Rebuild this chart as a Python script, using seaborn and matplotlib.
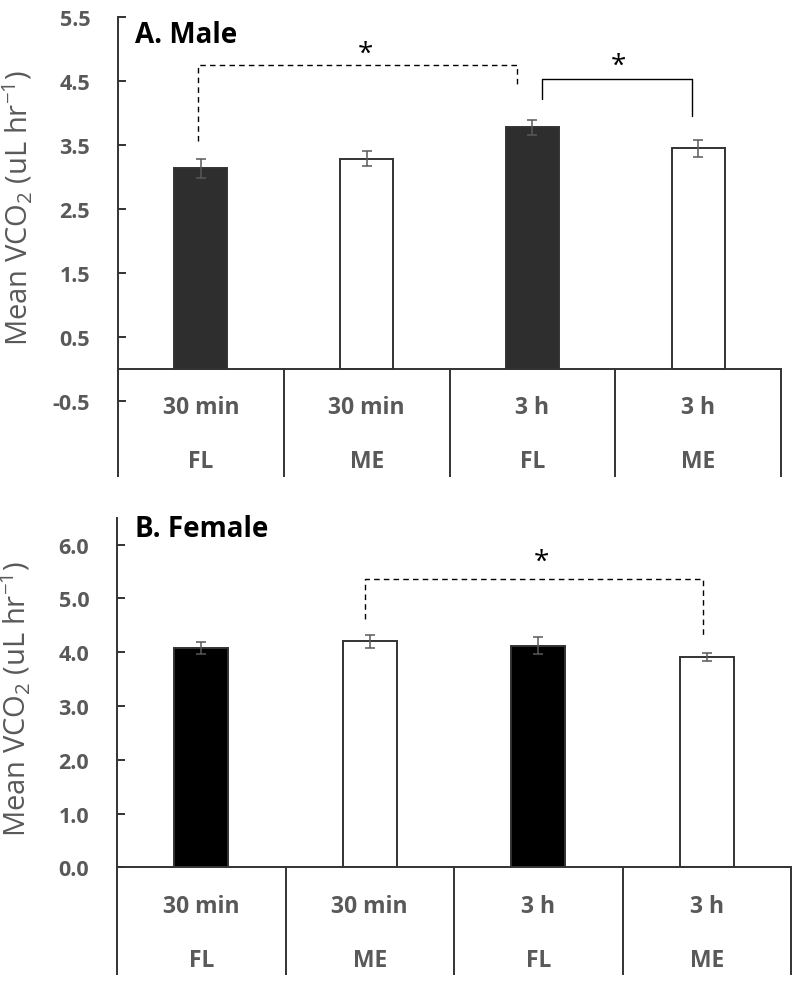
import matplotlib
matplotlib.use("Agg")
import matplotlib.pyplot as plt
import seaborn as sns
import pandas as pd

# Chart values
times = ["30 min", "30 min", "3 h", "3 h"]
groups = ["FL", "ME", "FL", "ME"]
male_mean = [3.14, 3.29, 3.78, 3.45]
male_err = [0.145, 0.12, 0.12, 0.135]
female_mean = [4.08, 4.20, 4.12, 3.91]
female_err = [0.11, 0.12, 0.155, 0.08]

male_ticks = [-0.5, 0.5, 1.5, 2.5, 3.5, 4.5, 5.5]
female_ticks = [0, 1, 2, 3, 4, 5, 6]

# significance brackets: x_left, x_right, y_left, y_top, y_right, dashed
male_brackets = [(-0.02, 1.91, 3.57, 4.75, 4.41, True),
                 (2.06, 2.96, 4.22, 4.54, 3.96, False)]
female_brackets = [(0.97, 2.98, 4.62, 5.36, 4.32, True)]
male_stars = [(0.99, 4.93), (2.52, 4.74)]
female_stars = [(2.02, 5.68)]

sns.set_style("white")
plt.rcParams['font.family'] = ['Open Sans', 'DejaVu Sans']

GRAY = '#595959'
EDGE = '#333333'


def draw_panel(ax, means, errs, fill, ylim, ticks, fmt, title, brackets, stars,
               line_bottom, lab1_y, lab2_y, title_y, ylab_y):
    df = pd.DataFrame({'cond': [f"{t} {g}" for t, g in zip(times, groups)],
                       'group': groups, 'mean': means})
    sns.barplot(data=df, x='cond', y='mean', hue='group',
                palette={'FL': fill, 'ME': 'white'}, dodge=False, width=0.32,
                edgecolor=EDGE, linewidth=1.4, errorbar=None, legend=False, ax=ax)
    ax.errorbar(range(len(means)), means, yerr=errs, fmt='none', ecolor=GRAY,
                elinewidth=1.1, capsize=3.6, capthick=1.1, zorder=5)

    ax.set_xlim(-0.5, 3.5)
    ax.set_ylim(*ylim)
    ax.set_yticks(ticks)
    ax.set_yticklabels([fmt.format(t) for t in ticks], fontsize=15.5,
                       fontweight='bold', color=GRAY)
    ax.tick_params(axis='y', direction='in', length=6, width=1.4, color=EDGE,
                   pad=20, left=True)
    ax.tick_params(axis='x', length=0, labelbottom=False)
    ax.set_xlabel('')
    ax.set_ylabel('Mean VCO$\\mathregular{_2}$ (uL hr$\\mathregular{^{-1}}$)',
                  fontsize=21, color=GRAY)
    ax.yaxis.set_label_coords(-0.125, ylab_y)

    for s in ['top', 'right']:
        ax.spines[s].set_visible(False)
    ax.spines['left'].set_color(EDGE)
    ax.spines['left'].set_linewidth(1.4)
    ax.spines['bottom'].set_color(EDGE)
    ax.spines['bottom'].set_linewidth(1.4)
    ax.spines['bottom'].set_position(('data', 0))

    # category table below the zero line
    trans = ax.get_xaxis_transform()
    y0 = (0 - ylim[0]) / (ylim[1] - ylim[0])
    for xv in [-0.5, 0.5, 1.5, 2.5, 3.5]:
        ax.plot([xv, xv], [y0, line_bottom], transform=trans, color=EDGE,
                lw=1.4, clip_on=False, solid_capstyle='butt')
    for i, (t, g) in enumerate(zip(times, groups)):
        ax.text(i, lab1_y, t, transform=trans, ha='center', va='baseline',
                fontsize=16.5, fontweight='bold', color=GRAY)
        ax.text(i, lab2_y, g, transform=trans, ha='center', va='baseline',
                fontsize=16.5, fontweight='bold', color=GRAY)

    ax.text(0.026, title_y, title, transform=ax.transAxes, ha='left',
            va='baseline', fontsize=20, fontweight='bold', color='black')

    for x1, x2, yl, yt, yr, dashed in brackets:
        ax.plot([x1, x1, x2, x2], [yl, yt, yt, yr], color='black', lw=1.0,
                linestyle=(0, (4, 3)) if dashed else '-', clip_on=False)
    for xs, ys in stars:
        ax.text(xs, ys, '*', ha='center', va='center', fontsize=20,
                color='black')


fig = plt.figure(figsize=(8, 9.95), dpi=100)
ax1 = fig.add_axes([0.1475, 0.5957, 0.8288, 0.3859])
ax2 = fig.add_axes([0.14625, 0.1273, 0.8425, 0.3513])

draw_panel(ax1, male_mean, male_err, '#2e2e2e', (-0.5, 5.5), male_ticks, '{:.1f}',
           'A. Male', male_brackets, male_stars,
           line_bottom=-0.197, lab1_y=-0.030, lab2_y=-0.172, title_y=0.935,
           ylab_y=0.506)
draw_panel(ax2, female_mean, female_err, '#000000', (0, 6.5), female_ticks, '{:.1f}',
           'B. Female', female_brackets, female_stars,
           line_bottom=-0.308, lab1_y=-0.128, lab2_y=-0.2815, title_y=0.949,
           ylab_y=0.483)

fig.savefig('out.png', dpi=100)
